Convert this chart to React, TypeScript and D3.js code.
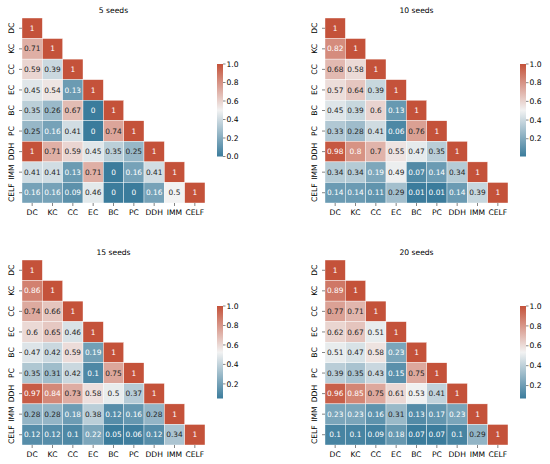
import * as d3 from "d3";

const labels = ["DC", "KC", "CC", "EC", "BC", "PC", "DDH", "IMM", "CELF"];

// lower triangle rows (incl. diagonal)
const seeds5 = [
  [1],
  [0.71, 1],
  [0.59, 0.39, 1],
  [0.45, 0.54, 0.13, 1],
  [0.35, 0.26, 0.67, 0, 1],
  [0.25, 0.16, 0.41, 0, 0.74, 1],
  [1, 0.71, 0.59, 0.45, 0.35, 0.25, 1],
  [0.41, 0.41, 0.13, 0.71, 0, 0.16, 0.41, 1],
  [0.16, 0.16, 0.09, 0.46, 0, 0, 0.16, 0.5, 1],
];
const seeds10 = [
  [1],
  [0.82, 1],
  [0.68, 0.58, 1],
  [0.57, 0.64, 0.39, 1],
  [0.45, 0.39, 0.6, 0.13, 1],
  [0.33, 0.28, 0.41, 0.06, 0.76, 1],
  [0.98, 0.8, 0.7, 0.55, 0.47, 0.35, 1],
  [0.34, 0.34, 0.19, 0.49, 0.07, 0.14, 0.34, 1],
  [0.14, 0.14, 0.11, 0.29, 0.01, 0.01, 0.14, 0.39, 1],
];
const seeds15 = [
  [1],
  [0.86, 1],
  [0.74, 0.66, 1],
  [0.6, 0.65, 0.46, 1],
  [0.47, 0.42, 0.59, 0.19, 1],
  [0.35, 0.31, 0.42, 0.1, 0.75, 1],
  [0.97, 0.84, 0.73, 0.58, 0.5, 0.37, 1],
  [0.28, 0.28, 0.18, 0.38, 0.12, 0.16, 0.28, 1],
  [0.12, 0.12, 0.1, 0.22, 0.05, 0.06, 0.12, 0.34, 1],
];
const seeds20 = [
  [1],
  [0.89, 1],
  [0.77, 0.71, 1],
  [0.62, 0.67, 0.51, 1],
  [0.51, 0.47, 0.58, 0.23, 1],
  [0.39, 0.35, 0.43, 0.15, 0.75, 1],
  [0.96, 0.85, 0.75, 0.61, 0.53, 0.41, 1],
  [0.23, 0.23, 0.16, 0.31, 0.13, 0.17, 0.23, 1],
  [0.1, 0.1, 0.09, 0.18, 0.07, 0.07, 0.1, 0.29, 1],
];

const titles = ["5 seeds", "10 seeds", "15 seeds", "20 seeds"];
const panelData = [seeds5, seeds10, seeds15, seeds20];
const panelVmin = [0, 0.01, 0.05, 0.07];

const BLUE = "#3b7c9c";
const MID = "#f2f2f2";
const RED = "#c4523a";
const FONT = "DejaVu Sans, sans-serif";

const origins = [
  [22, 18],
  [325, 18],
  [22, 260],
  [325, 260],
];
const gridW = 183;
const gridH = 185;

function luminance(c: string) {
  const rgb = d3.rgb(c);
  const lin = (v: number) => {
    v = v / 255;
    return v <= 0.03928 ? v / 12.92 : Math.pow((v + 0.055) / 1.055, 2.4);
  };
  return 0.2126 * lin(rgb.r) + 0.7152 * lin(rgb.g) + 0.0722 * lin(rgb.b);
}

const fmt = d3.format(".2~g");

function Panel({ idx }: { idx: number }) {
  const [ox, oy] = origins[idx];
  const rows = panelData[idx];
  const vmin = panelVmin[idx];
  const x = d3.scaleBand().domain(labels).range([ox, ox + gridW]);
  const y = d3.scaleBand().domain(labels).range([oy, oy + gridH]);
  const color = d3
    .scaleLinear<string>()
    .domain([vmin, (vmin + 1) / 2, 1])
    .range([BLUE, MID, RED])
    .interpolate(d3.interpolateRgb);

  const cbX = ox + gridW + 12;
  const cbTop = oy + 46;
  const cbH = 92.5;
  const cbScale = d3.scaleLinear().domain([vmin, 1]).range([cbTop + cbH, cbTop]);
  const cbTicks = cbScale.ticks(5);
  const gid = `grad${idx}`;

  return (
    <g>
      <text
        x={ox + gridW / 2}
        y={oy - 5.5}
        textAnchor="middle"
        fontSize={7.6}
        fontFamily={FONT}
        fill="#000"
      >
        {titles[idx]}
      </text>
      {rows.map((row, i) =>
        row.map((v, j) => {
          const c = color(v);
          const tc = luminance(c) <= 0.408 ? "#fff" : "#262626";
          const cx = x(labels[j])!;
          const cy = y(labels[i])!;
          return (
            <g key={`${i}-${j}`}>
              <rect
                x={cx}
                y={cy}
                width={x.bandwidth()}
                height={y.bandwidth()}
                fill={c}
                stroke="#fff"
                strokeWidth={0.4}
              />
              <text
                x={cx + x.bandwidth() / 2}
                y={cy + y.bandwidth() / 2}
                dy="0.36em"
                textAnchor="middle"
                fontSize={7.4}
                fontFamily={FONT}
                fill={tc}
              >
                {fmt(v)}
              </text>
            </g>
          );
        })
      )}
      {labels.map((l) => {
        const cy = y(l)! + y.bandwidth() / 2;
        const cx = x(l)! + x.bandwidth() / 2;
        return (
          <g key={`t-${l}`}>
            <line x1={ox - 3} x2={ox} y1={cy} y2={cy} stroke="#333" strokeWidth={0.6} />
            <text
              transform={`translate(${ox - 8.5},${cy}) rotate(-90)`}
              textAnchor="middle"
              fontSize={7.6}
              fontFamily={FONT}
              fill="#000"
            >
              {l}
            </text>
            <line x1={cx} x2={cx} y1={oy + gridH} y2={oy + gridH + 3} stroke="#333" strokeWidth={0.6} />
            <text
              x={cx}
              y={oy + gridH + 11.5}
              textAnchor="middle"
              fontSize={7.6}
              fontFamily={FONT}
              fill="#000"
            >
              {l}
            </text>
          </g>
        );
      })}
      <defs>
        <linearGradient id={gid} x1="0" y1="1" x2="0" y2="0">
          <stop offset="0%" stopColor={BLUE} />
          <stop offset="50%" stopColor={MID} />
          <stop offset="100%" stopColor={RED} />
        </linearGradient>
      </defs>
      <rect x={cbX} y={cbTop} width={6} height={cbH} fill={`url(#${gid})`} />
      {cbTicks.map((t) => (
        <g key={`cb-${t}`}>
          <line
            x1={cbX + 6}
            x2={cbX + 8.5}
            y1={cbScale(t)}
            y2={cbScale(t)}
            stroke="#333"
            strokeWidth={0.6}
          />
          <text
            x={cbX + 9.5}
            y={cbScale(t)}
            dy="0.35em"
            fontSize={7.6}
            fontFamily={FONT}
            fill="#000"
          >
            {d3.format(".1f")(t)}
          </text>
        </g>
      ))}
    </g>
  );
}

export default function App() {
  return (
    <svg
      width={550}
      height={464}
      style={{ position: "absolute", left: 0, top: 0, background: "#fff" }}
    >
      <rect width={550} height={464} fill="#fff" />
      {[0, 1, 2, 3].map((i) => (
        <Panel key={i} idx={i} />
      ))}
    </svg>
  );
}
